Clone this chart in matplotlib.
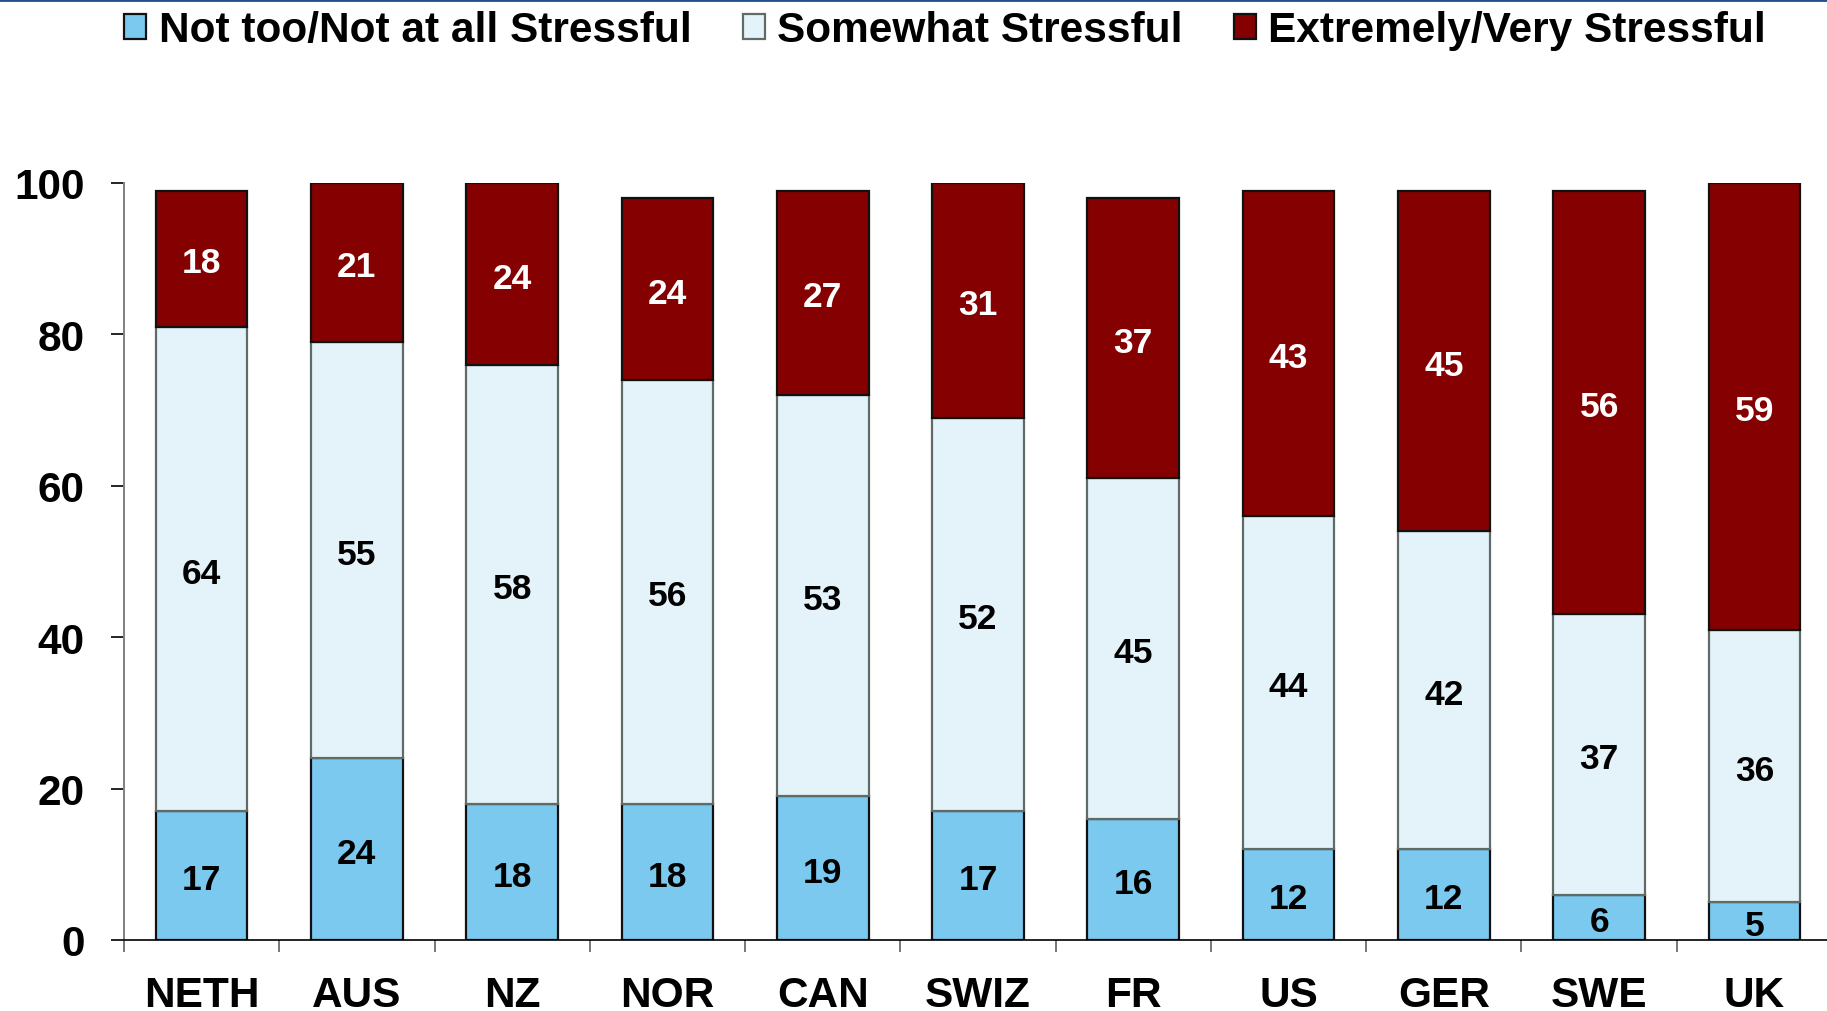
import matplotlib
matplotlib.use("Agg")
import matplotlib.pyplot as plt
import numpy as np
from matplotlib.lines import Line2D

plt.rcParams['font.family'] = ['Liberation Sans', 'DejaVu Sans']
plt.rcParams['font.weight'] = 'bold'

# Data
countries = ["NETH", "AUS", "NZ", "NOR", "CAN", "SWIZ", "FR", "US", "GER", "SWE", "UK"]
not_stressful = [17, 24, 18, 18, 19, 17, 16, 12, 12, 6, 5]
somewhat = [64, 55, 58, 56, 53, 52, 45, 44, 42, 37, 36]
very_stressful = [18, 21, 24, 24, 27, 31, 37, 43, 45, 56, 59]

series_names = ["Not too/Not at all Stressful", "Somewhat Stressful", "Extremely/Very Stressful"]
colors = ["#7BC9EE", "#E4F3FA", "#850000"]
edges = ["#111111", "#5F6B64", "#111111"]
text_colors = ["black", "black", "white"]

fig = plt.figure(figsize=(18.27, 10.12), dpi=100)
ax = fig.add_axes([124 / 1827, 71 / 1012, 1708 / 1827, 757 / 1012])

x = np.arange(len(countries))
bottom = np.zeros(len(countries))
for vals, name, c, ec, tc in zip([not_stressful, somewhat, very_stressful],
                                 series_names, colors, edges, text_colors):
    vals = np.array(vals)
    ax.bar(x, vals, bottom=bottom, width=0.59, color=c, edgecolor=ec,
           linewidth=1.6, label=name)
    for xi, b, v in zip(x, bottom, vals):
        ax.annotate(str(v), (xi, b + v / 2), xytext=(0, -3), textcoords="offset points",
                    ha="center", va="center", fontsize=25.5, fontweight="bold", color=tc)
    bottom = bottom + vals

# Axes styling
ax.set_xlim(-0.5, len(countries) - 0.5)
ax.set_ylim(0, 100)
ax.set_yticks([0, 20, 40, 60, 80, 100])
ax.tick_params(axis="y", length=9.4, width=1.2, color="black", pad=19,
               labelsize=30.5)
ax.set_xticks(x)
ax.set_xticklabels(countries)
ax.tick_params(axis="x", length=0, pad=25, labelsize=30.5)
ax.set_xticks(np.arange(-0.5, len(countries)), minor=True)
ax.tick_params(axis="x", which="minor", length=8.6, width=1.4, color="#777777")
for lbl in ax.get_xticklabels() + ax.get_yticklabels():
    lbl.set_fontweight("bold")

for s in ["top", "right"]:
    ax.spines[s].set_visible(False)
ax.spines["left"].set_color("#808080")
ax.spines["left"].set_linewidth(1.4)
ax.spines["bottom"].set_color("black")
ax.spines["bottom"].set_linewidth(1.2)

# Legend at the top
fig.legend(loc="upper left", bbox_to_anchor=(120 / 1827, 1 - 7 / 1012), ncol=3, frameon=False,
           prop={"size": 30.5, "weight": "bold"}, handlelength=0.52, handleheight=0.52,
           handletextpad=0.3, columnspacing=1.2, borderaxespad=0.0, borderpad=0.1)

# Thin blue rule along the top edge
fig.add_artist(Line2D([0, 1], [0.999, 0.999], transform=fig.transFigure,
                      color="#1F4E8C", linewidth=2.0))

fig.savefig("out.png", dpi=100)
